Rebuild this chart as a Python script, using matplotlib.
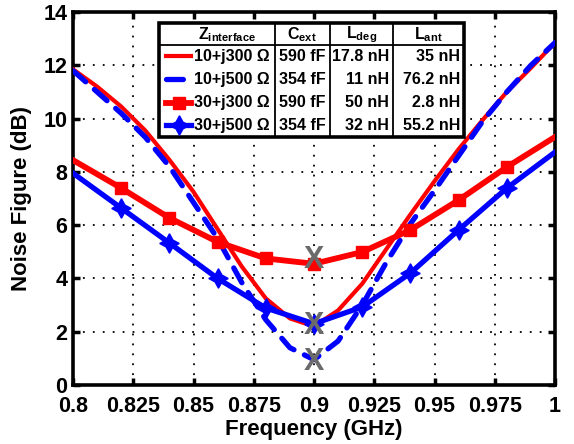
import numpy as np
import matplotlib as mpl
mpl.use('Agg')
import matplotlib.pyplot as plt
import matplotlib.ticker as ticker
from matplotlib.lines import Line2D
from matplotlib.patches import Rectangle

plt.rcParams['font.family'] = ['Liberation Sans', 'DejaVu Sans']
plt.rcParams['font.weight'] = 'bold'
plt.rcParams['mathtext.fontset'] = 'custom'
plt.rcParams['mathtext.rm'] = 'Liberation Sans:bold'
plt.rcParams['mathtext.bf'] = 'Liberation Sans:bold'

# frequency grids (GHz)
freq_fine = [0.80, 0.81, 0.82, 0.83, 0.84, 0.85, 0.86, 0.87, 0.88, 0.89, 0.90,
             0.91, 0.92, 0.93, 0.94, 0.95, 0.96, 0.97, 0.98, 0.99, 1.00]
freq_coarse = [0.80, 0.82, 0.84, 0.86, 0.88, 0.90, 0.92, 0.94, 0.96, 0.98, 1.00]

# noise figure (dB)
nf_10_j300 = [11.85, 11.2, 10.45, 9.55, 8.45, 7.25, 5.85, 4.45, 3.25, 2.5, 2.2,
              2.8, 3.8, 5.1, 6.4, 7.65, 8.85, 9.95, 11.0, 11.9, 12.85]
nf_10_j500 = [11.8, 11.0, 10.2, 9.3, 8.2, 6.85, 5.5, 3.85, 2.45, 1.4, 0.95,
              1.65, 3.0, 4.6, 6.05, 7.3, 8.6, 9.9, 11.0, 12.0, 12.85]
nf_30_j300 = [8.44, 7.39, 6.27, 5.37, 4.75, 4.55, 4.99, 5.82, 6.94, 8.18, 9.31]
nf_30_j500 = [7.95, 6.64, 5.33, 4.0, 2.89, 2.3, 2.93, 4.2, 5.82, 7.39, 8.74]

# minimum NF points marked with X
min_freq = [0.9, 0.9, 0.9]
min_nf = [4.7, 2.2, 0.85]

# legend table
col_heads = [r'Z$_{\mathrm{interface}}$', r'C$_{\mathrm{ext}}$', r'L$_{\mathrm{deg}}$', r'L$_{\mathrm{ant}}$']
z_labels = ['10+j300 Ω', '10+j500 Ω', '30+j300 Ω', '30+j500 Ω']
c_ext = ['590 fF', '354 fF', '590 fF', '354 fF']
l_deg = ['17.8 nH', '11 nH', '50 nH', '32 nH']
l_ant = ['35 nH', '76.2 nH', '2.8 nH', '55.2 nH']

xticks = [0.8, 0.825, 0.85, 0.875, 0.9, 0.925, 0.95, 0.975, 1.0]

W, H = 574, 444
fig = plt.figure(figsize=(W / 100, H / 100), dpi=100)
AX_L, AX_R, AX_T, AX_B = 73, 555, 12, 385
ax = fig.add_axes([AX_L / W, 1 - AX_B / H, (AX_R - AX_L) / W, (AX_B - AX_T) / H])

red = '#ff0000'
blue = '#0000ff'
styles = [
    dict(color=red, lw=3, ls='-'),
    dict(color=blue, lw=3.8, ls=(0, (3.2, 2.2)), dash_capstyle='round'),
    dict(color=red, lw=4.2, ls='-', marker='s', ms=9),
    dict(color=blue, lw=3.8, ls='-', marker=(4, 1, 0), ms=14),
]

ax.plot(freq_fine, nf_10_j300, zorder=3, **styles[0])
ax.plot(freq_fine, nf_10_j500, zorder=3, **styles[1])
ax.plot(freq_coarse, nf_30_j300, zorder=4, markevery=slice(1, -1), **styles[2])
ax.plot(freq_coarse, nf_30_j500, zorder=4, markevery=slice(1, -1), **styles[3])

for fx, ny in zip(min_freq, min_nf):
    ax.text(fx, ny, 'X', ha='center', va='center', fontsize=22, fontweight='bold',
            color='#6b6b6b', zorder=6)

ax.set_xlim(0.8, 1.0)
ax.set_ylim(0, 14)
ax.set_xticks(xticks)
ax.xaxis.set_major_formatter(ticker.FuncFormatter(lambda v, p: f'{v:g}'))
ax.set_yticks(range(0, 15, 2))
ax.grid(True, color='black', linestyle=(0, (1, 4.5)), linewidth=1.3)
ax.tick_params(direction='in', length=5, width=2.5, top=True, right=True, labelsize=15.5)
ax.tick_params(axis='x', pad=8)
ax.tick_params(axis='y', pad=4)
for s in ax.spines.values():
    s.set_linewidth(2.6)
ax.set_xlabel('Frequency (GHz)', fontsize=16, fontweight='bold', labelpad=1)
ax.set_ylabel('Noise Figure (dB)', fontsize=16, fontweight='bold', labelpad=8)


# legend table drawn in pixel coordinates of the figure
def px(x, y):
    return ((x - AX_L) / (AX_R - AX_L), (AX_B - y) / (AX_B - AX_T))


tl, tr, tt, tb = 159, 464, 23, 137
cols = [159, 275, 330, 393, 464]
rows = [23, 45, 68, 91, 114, 137]
x0, y0 = px(tl, tb)
x1, y1 = px(tr, tt)
ax.add_patch(Rectangle((x0, y0), x1 - x0, y1 - y0, transform=ax.transAxes,
                       facecolor='white', edgecolor='black', lw=2.6, zorder=7, clip_on=False))
for c in cols[1:-1]:
    a, b = px(c, tt), px(c, tb)
    ax.add_line(Line2D([a[0], b[0]], [a[1], b[1]], transform=ax.transAxes, color='black',
                       lw=1.3, zorder=8, clip_on=False))
a, b = px(tl, rows[1]), px(tr, rows[1])
ax.add_line(Line2D([a[0], b[0]], [a[1], b[1]], transform=ax.transAxes, color='black',
                   lw=1.3, zorder=8, clip_on=False))

tkw = dict(transform=ax.transAxes, fontsize=11.5, fontweight='bold', zorder=9, va='center')
head_x = [227, 302, 362, 428]
for hx, h in zip(head_x, col_heads):
    ax.text(*px(hx, 35), h, ha='center', **tkw)
for i in range(4):
    yc = (rows[i + 1] + rows[i + 2]) / 2
    ax.text(*px(270, yc), z_labels[i], ha='right', **tkw)
    ax.text(*px(302, yc), c_ext[i], ha='center', **tkw)
    ax.text(*px(389, yc), l_deg[i], ha='right', **tkw)
    ax.text(*px(460, yc), l_ant[i], ha='right', **tkw)
    a, b = px(166, yc), px(191, yc)
    st = dict(styles[i])
    if 'marker' in st:
        ax.add_line(Line2D([a[0], (a[0] + b[0]) / 2, b[0]], [a[1]] * 3, transform=ax.transAxes,
                           markevery=[1], zorder=9, clip_on=False, **st))
    else:
        ax.add_line(Line2D([a[0], b[0]], [a[1], b[1]], transform=ax.transAxes,
                           zorder=9, clip_on=False, **st))

fig.savefig('out.png', dpi=100)
